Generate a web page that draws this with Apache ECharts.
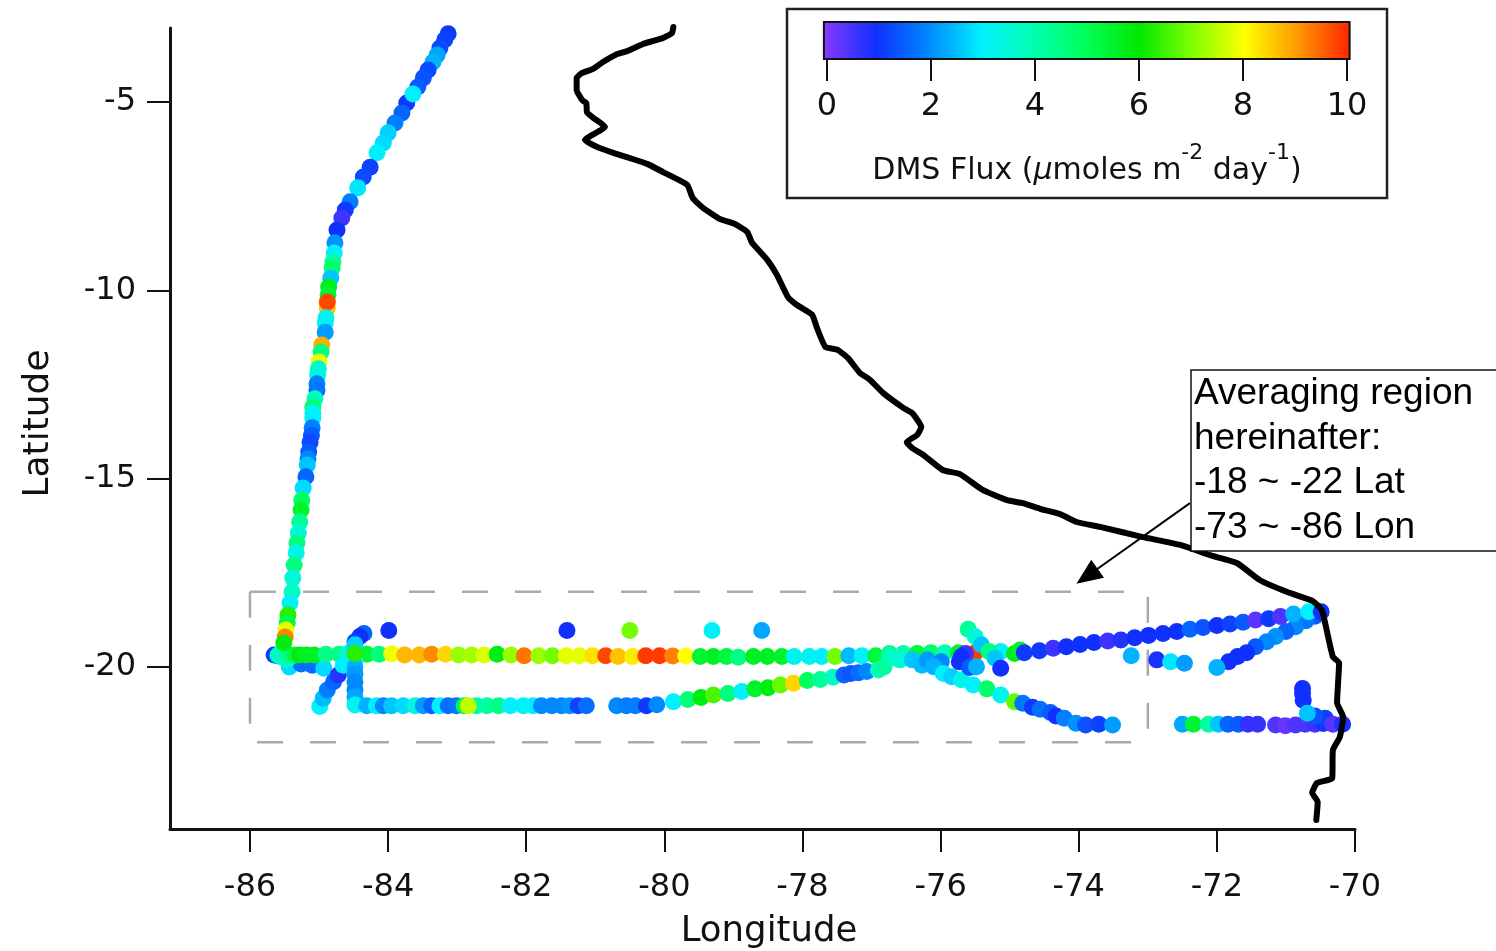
<!DOCTYPE html>
<html>
<head>
<meta charset="utf-8">
<style>
  html, body { margin: 0; padding: 0; background: #fff; }
  #chart { width: 1496px; height: 951px; }
</style>
<script src="https://cdn.jsdelivr.net/npm/echarts@6/dist/echarts.min.js"></script>
</head>
<body>
<div id="chart"></div>
<script>
// tick labels
const lonTicks = [-86, -84, -82, -80, -78, -76, -74, -72, -70];
const latTicks = [-5, -10, -15, -20];
const fluxTicks = [0, 2, 4, 6, 8, 10];

// flux colour scale, one colour per unit from 0 to 10
const fluxColors = ['#8a38ff', '#1030ff', '#0088ff', '#00f0ff', '#00ffb0', '#00ff58',
  '#00e800', '#80ff00', '#ffff00', '#ff9800', '#ff2400'];
const colorbarRange = [-0.06, 10.05];

// ship track, each point is [lon, lat, flux]
const northLeg = [
  [-83.13, -3.19, 1.1], [-83.18, -3.35, 1.2], [-83.25, -3.57, 1.3], [-83.29, -3.75, 2.3],
  [-83.35, -3.94, 2.4], [-83.42, -4.15, 1.3], [-83.49, -4.36, 1.4], [-83.57, -4.60, 1.5],
  [-83.73, -5.03, 1.1], [-83.64, -4.79, 3.0], [-83.80, -5.29, 1.6], [-83.90, -5.56, 1.9],
  [-84.00, -5.82, 2.7], [-84.07, -6.09, 2.8], [-84.16, -6.35, 3.0], [-84.26, -6.73, 1.2],
  [-84.36, -6.99, 1.3], [-84.44, -7.28, 2.9], [-84.55, -7.65, 1.9], [-84.62, -7.87, 1.1],
  [-84.67, -8.08, 0.6], [-84.74, -8.40, 1.0], [-84.77, -8.74, 2.1], [-84.78, -9.01, 3.0],
  [-84.80, -9.25, 4.2], [-84.81, -9.41, 4.8], [-84.83, -9.67, 2.6], [-84.86, -9.91, 5.7],
  [-84.87, -10.12, 5.4], [-84.88, -10.47, 8.6], [-84.88, -10.31, 9.7], [-84.90, -10.73, 3.3],
  [-84.91, -10.87, 3.1], [-84.91, -11.11, 2.2], [-84.96, -11.45, 8.8], [-84.97, -11.64, 4.5],
  [-85.00, -11.90, 7.8], [-85.01, -12.08, 3.6], [-85.02, -12.25, 3.4], [-85.03, -12.48, 1.9], [-85.03, -12.65, 1.8],
  [-85.06, -12.88, 3.8], [-85.09, -13.10, 4.8], [-85.09, -13.25, 3.2],
  [-85.09, -13.39, 3.0], [-85.10, -13.65, 1.9], [-85.11, -13.85, 1.5], [-85.13, -14.03, 1.3], [-85.15, -14.29, 1.5],
  [-85.16, -14.47, 2.0], [-85.17, -14.64, 2.6], [-85.19, -14.95, 1.6], [-85.23, -15.25, 2.8], [-85.25, -15.57, 4.9],
  [-85.26, -15.83, 5.5], [-85.28, -16.15, 4.3], [-85.30, -16.44, 3.5], [-85.32, -16.71, 4.6],
  [-85.33, -16.97, 3.3], [-85.36, -17.29, 4.6], [-85.38, -17.64, 3.5], [-85.39, -18.01, 3.8],
  [-85.42, -18.30, 3.2], [-85.45, -18.62, 6.3], [-85.46, -18.83, 5.2], [-85.48, -19.02, 7.8],
  [-85.49, -19.20, 9.2], [-85.51, -19.36, 5.8]
];
const turnCluster = [
  [-85.43, -20.00, 2.8], [-85.26, -19.92, 1.7], [-85.10, -19.95, 1.7], [-84.93, -20.03, 2.8],
  [-85.65, -19.68, 1.1], [-85.60, -19.70, 2.2], [-85.53, -19.74, 3.2], [-85.46, -19.80, 3.6]
];
const mainLine = [
  [-85.59, -19.68, 3.8], [-85.45, -19.68, 4.4], [-85.35, -19.68, 5.2], [-85.28, -19.68, 5.8],
  [-85.18, -19.68, 5.6], [-85.07, -19.68, 5.6], [-84.90, -19.66, 4.5], [-84.71, -19.66, 4.5],
  [-84.31, -19.66, 5.4], [-84.13, -19.66, 4.6], [-83.95, -19.65, 7.9], [-83.76, -19.68, 8.7],
  [-83.55, -19.68, 8.7], [-83.37, -19.66, 9.1], [-83.17, -19.66, 8.4], [-82.98, -19.68, 7.2],
  [-82.79, -19.68, 7.3], [-82.61, -19.68, 7.7], [-82.42, -19.66, 5.8], [-82.22, -19.68, 7.2],
  [-82.03, -19.70, 9.3], [-81.82, -19.70, 7.2], [-81.62, -19.70, 6.9], [-81.42, -19.70, 7.8],
  [-81.23, -19.70, 7.8], [-81.04, -19.70, 8.3], [-80.85, -19.70, 9.7], [-80.67, -19.72, 8.6],
  [-80.46, -19.72, 8.2], [-80.27, -19.70, 9.8], [-80.07, -19.70, 9.8], [-79.88, -19.71, 9.2],
  [-79.69, -19.71, 8.0], [-79.48, -19.72, 5.4], [-79.29, -19.72, 5.6], [-79.10, -19.72, 5.3],
  [-78.93, -19.74, 4.5], [-78.71, -19.72, 5.6], [-78.51, -19.72, 5.6], [-78.30, -19.72, 5.5],
  [-78.12, -19.72, 3.2], [-77.90, -19.72, 3.2], [-77.72, -19.72, 3.0], [-77.53, -19.72, 6.9],
  [-77.33, -19.70, 2.5], [-77.14, -19.70, 3.1], [-76.94, -19.70, 5.3], [-76.74, -19.64, 4.3],
  [-76.54, -19.64, 4.0], [-76.34, -19.64, 5.3], [-76.14, -19.62, 4.8], [-75.94, -19.62, 4.0],
  [-75.74, -19.62, 5.5], [-75.50, -19.62, 9.8], [-75.13, -19.59, 3.1], [-74.93, -19.64, 5.7],
  [-74.85, -19.55, 5.5]
];
const northEastLeg = [
  [-74.79, -19.62, 1.1], [-74.57, -19.57, 1.1], [-74.37, -19.50, 0.6], [-74.18, -19.46, 1.0],
  [-73.98, -19.40, 1.0], [-73.78, -19.35, 1.0], [-73.58, -19.31, 0.6], [-73.39, -19.28, 0.8],
  [-73.19, -19.22, 1.0], [-72.99, -19.16, 1.0], [-72.78, -19.11, 1.0], [-72.58, -19.06, 1.0],
  [-72.39, -19.00, 1.6], [-72.20, -18.95, 1.4], [-72.00, -18.90, 1.0], [-71.81, -18.86, 1.2],
  [-71.62, -18.81, 1.5], [-71.44, -18.75, 0.4], [-71.25, -18.72, 1.1], [-71.08, -18.66, 0.5],
  [-70.89, -18.59, 2.4], [-70.67, -18.53, 3.0], [-70.49, -18.53, 1.0]
];
const returnLeg = [
  [-70.58, -18.65, 1.5], [-70.71, -18.77, 1.8], [-70.86, -18.93, 2.0], [-71.00, -19.06, 1.6],
  [-71.15, -19.19, 2.1], [-71.28, -19.33, 2.0], [-71.44, -19.46, 1.5], [-71.57, -19.62, 1.0],
  [-71.70, -19.72, 1.0], [-71.83, -19.86, 1.0], [-72.00, -20.01, 2.4]
];
const isolatedPoints = [
  [-83.99, -19.03, 1.0], [-81.41, -19.03, 1.0], [-80.50, -19.03, 6.9], [-79.31, -19.03, 3.1],
  [-78.59, -19.03, 2.3], [-73.24, -19.70, 2.4], [-72.87, -19.81, 0.9], [-72.67, -19.86, 2.9],
  [-72.47, -19.90, 2.2]
];
const diagonalLeg = [
  [-84.99, -21.05, 3.0], [-84.94, -20.83, 2.5], [-84.88, -20.61, 1.9], [-84.79, -20.39, 1.6],
  [-84.72, -20.21, 0.8], [-84.65, -19.95, 3.0], [-84.58, -19.64, 3.5], [-84.35, -19.11, 1.6],
  [-84.41, -19.19, 1.0], [-84.48, -19.33, 1.2]
];
const verticalLeg = [
  [-84.48, -19.41, 2.7], [-84.48, -19.81, 3.0], [-84.48, -19.99, 2.4], [-84.48, -20.17, 2.2],
  [-84.48, -20.39, 2.0], [-84.48, -20.61, 2.0], [-84.48, -20.79, 2.3], [-84.48, -21.01, 3.2],
  [-84.48, -19.64, 6.3]
];
const southLine = [
  [-84.31, -21.03, 2.4], [-84.17, -21.03, 3.0], [-84.07, -21.03, 2.0], [-83.95, -21.03, 2.6],
  [-83.78, -21.03, 2.8], [-83.61, -21.03, 3.4], [-83.49, -21.03, 2.2], [-83.37, -21.03, 1.6],
  [-83.25, -21.03, 3.0], [-83.13, -21.03, 1.7], [-83.01, -21.03, 1.8], [-82.90, -21.03, 5.2],
  [-82.72, -21.03, 4.2], [-82.57, -21.03, 4.2], [-82.40, -21.03, 4.5], [-82.84, -21.03, 7.5],
  [-82.23, -21.03, 3.0], [-82.04, -21.03, 3.1], [-81.90, -21.03, 3.0], [-81.78, -21.03, 2.0],
  [-81.63, -21.03, 2.0], [-81.49, -21.03, 2.0], [-81.37, -21.03, 2.1], [-81.25, -21.03, 1.2],
  [-81.13, -21.03, 1.7], [-80.69, -21.03, 2.0], [-80.55, -21.03, 1.9], [-80.42, -21.03, 1.9],
  [-80.26, -21.03, 1.1], [-80.11, -21.00, 2.0]
];
const risingLeg = [
  [-79.87, -20.92, 3.0], [-79.66, -20.86, 4.6], [-79.47, -20.81, 5.8], [-79.29, -20.74, 6.6],
  [-79.08, -20.70, 4.6], [-78.88, -20.65, 3.0], [-78.69, -20.58, 5.5], [-78.50, -20.55, 5.8],
  [-78.32, -20.48, 6.8], [-78.13, -20.43, 8.4], [-77.93, -20.36, 4.9], [-77.74, -20.33, 4.3],
  [-77.56, -20.27, 3.8], [-77.40, -20.21, 1.6], [-77.30, -20.17, 1.4], [-77.19, -20.15, 1.7],
  [-77.07, -20.12, 2.0], [-76.90, -20.08, 4.0], [-76.82, -20.00, 4.2]
];
const southEastLeg = [
  [-76.73, -19.77, 3.8], [-76.59, -19.81, 3.6], [-76.41, -19.81, 2.6], [-76.27, -19.95, 2.5],
  [-76.19, -19.81, 2.2], [-75.99, -19.86, 2.0], [-76.10, -19.99, 2.4], [-75.96, -20.17, 3.0],
  [-75.84, -20.26, 2.7], [-75.70, -20.34, 3.3], [-75.53, -20.48, 3.0], [-75.33, -20.58, 4.8],
  [-75.13, -20.74, 3.2], [-74.93, -20.92, 6.8], [-74.81, -20.96, 1.8], [-74.67, -21.07, 1.1],
  [-74.56, -21.12, 1.7], [-74.41, -21.21, 1.5], [-74.33, -21.30, 1.0], [-74.21, -21.36, 1.9],
  [-74.04, -21.49, 2.1], [-73.90, -21.54, 1.4], [-73.71, -21.52, 1.2], [-73.51, -21.54, 2.2]
];
const crossingLeg = [
  [-75.64, -19.64, 0.6], [-75.70, -19.72, 1.0], [-75.73, -19.86, 1.0], [-75.58, -20.01, 1.5],
  [-75.48, -19.99, 2.4], [-75.60, -19.00, 4.3], [-75.50, -19.19, 3.5], [-75.41, -19.41, 2.6],
  [-75.30, -19.59, 4.5], [-75.21, -19.77, 2.6], [-75.13, -20.03, 1.0]
];
const coastalLine = [
  [-72.50, -21.52, 2.3], [-72.34, -21.52, 5.4], [-72.12, -21.52, 4.2], [-71.98, -21.52, 2.6],
  [-71.84, -21.52, 1.6], [-71.69, -21.52, 1.5], [-71.55, -21.52, 0.7], [-71.41, -21.52, 0.7],
  [-71.15, -21.54, 0.5], [-71.01, -21.56, 0.3], [-70.86, -21.54, 0.5], [-70.72, -21.52, 0.5],
  [-70.58, -21.52, 0.6], [-70.46, -21.50, 0.9], [-70.43, -21.36, 1.2], [-70.58, -21.30, 1.4],
  [-70.76, -20.57, 1.0], [-70.76, -20.70, 1.0], [-70.75, -20.88, 1.0], [-70.69, -21.23, 2.6],
  [-70.32, -21.52, 0.4], [-70.18, -21.52, 0.9]
];

// coastline, [lon, lat]
const coastline = [
  [-79.87, -3.01], [-79.89, -3.17], [-80.02, -3.30], [-80.16, -3.38], [-80.31, -3.46], [-80.54, -3.65],
  [-80.71, -3.75], [-80.89, -3.94], [-81.03, -4.12], [-81.19, -4.23], [-81.27, -4.36], [-81.27, -4.68],
  [-81.19, -4.95], [-81.13, -5.03], [-81.12, -5.27], [-81.03, -5.42], [-80.86, -5.66], [-81.15, -6.01],
  [-80.98, -6.19], [-80.74, -6.35], [-80.50, -6.49], [-80.24, -6.65], [-80.02, -6.86], [-79.67, -7.20],
  [-79.59, -7.55], [-79.44, -7.81], [-79.19, -8.11], [-78.98, -8.24], [-78.80, -8.45], [-78.73, -8.74],
  [-78.51, -9.19], [-78.37, -9.59], [-78.21, -10.18], [-78.08, -10.39], [-77.86, -10.65], [-77.79, -11.00],
  [-77.67, -11.50], [-77.49, -11.58], [-77.34, -11.80], [-77.17, -12.19], [-77.02, -12.38], [-76.83, -12.73],
  [-76.54, -13.12], [-76.41, -13.26], [-76.28, -13.63], [-76.34, -13.84], [-76.49, -14.03], [-76.41, -14.19],
  [-76.25, -14.37], [-75.97, -14.77], [-75.72, -14.88], [-75.39, -15.30], [-75.04, -15.57], [-74.81, -15.65],
  [-74.56, -15.80], [-74.27, -15.94], [-74.03, -16.15], [-73.69, -16.28], [-73.07, -16.55], [-72.53, -16.76],
  [-72.10, -17.03], [-71.71, -17.24], [-71.38, -17.69], [-70.98, -18.01], [-70.61, -18.25], [-70.48, -18.49],
  [-70.41, -19.02], [-70.32, -19.73], [-70.23, -19.89], [-70.26, -20.95], [-70.17, -21.33], [-70.22, -21.86],
  [-70.32, -22.20], [-70.33, -22.95], [-70.55, -23.08], [-70.62, -23.34], [-70.54, -23.58], [-70.56, -24.06]
];

// averaging region edges and the arrow pointing at it
const regionEdges = [
  [[-86, -18], [-73, -18]],
  [[-86, -18], [-86, -22]],
  [[-73, -18], [-73, -22]],
  [[-86, -22], [-73, -22]]
];
const regionDashOffsets = [0, 0, 48, 46];
const arrowFrom = [-72.39, -15.65];
const arrowTo = [-73.88, -17.59];

const trackPoints = [].concat(turnCluster, mainLine, northLeg, southEastLeg, crossingLeg, returnLeg,
  northEastLeg, diagonalLeg, verticalLeg, southLine, risingLeg, isolatedPoints, coastalLine);

const axisColor = '#111';
const labelFont = '"DejaVu Sans"';

const chart = echarts.init(document.getElementById('chart'));
chart.setOption({
  animation: false,
  backgroundColor: '#fff',
  grid: [
    { left: 170, top: 28, width: 1185, height: 801, outerBoundsMode: 'none' },
    { left: 827, top: 22, width: 520, height: 37, outerBoundsMode: 'none' }
  ],
  xAxis: [
    {
      type: 'value', gridIndex: 0, min: -87.158, max: -70,
      name: 'Longitude', nameLocation: 'middle', nameGap: 85,
      nameTextStyle: { fontFamily: labelFont, fontSize: 35.5, color: axisColor, padding: [0, 0, 0, 13] },
      splitLine: { show: false },
      axisLine: { onZero: false, lineStyle: { color: axisColor, width: 3 } },
      axisTick: { show: true, customValues: lonTicks, length: 23, lineStyle: { color: axisColor, width: 2 } },
      axisLabel: { customValues: lonTicks, margin: 43, fontFamily: labelFont, fontSize: 32, color: axisColor }
    },
    {
      type: 'value', gridIndex: 1, min: 0, max: 10,
      name: '{n|DMS Flux (}{i|\u03bc}{n|moles m}{s|-2}{n| day}{s|-1}{n|)}',
      nameLocation: 'middle', nameGap: 83,
      nameTextStyle: {
        rich: {
          n: { fontFamily: labelFont, fontSize: 30, lineHeight: 44, color: axisColor, verticalAlign: 'bottom' },
          i: { fontFamily: labelFont, fontSize: 30, lineHeight: 44, fontStyle: 'italic', color: axisColor, verticalAlign: 'bottom' },
          s: { fontFamily: labelFont, fontSize: 22, lineHeight: 44, color: axisColor, verticalAlign: 'top' }
        }
      },
      splitLine: { show: false },
      axisLine: { show: false },
      axisTick: { show: true, customValues: fluxTicks, length: 22, lineStyle: { color: axisColor, width: 2 } },
      axisLabel: { customValues: fluxTicks, margin: 32, fontFamily: labelFont, fontSize: 32, color: axisColor }
    }
  ],
  yAxis: [
    {
      type: 'value', gridIndex: 0, min: -24.3, max: -3.036,
      name: 'Latitude', nameLocation: 'middle', nameGap: 113,
      nameTextStyle: { fontFamily: labelFont, fontSize: 36, color: axisColor, padding: [0, 0, 0, 10] },
      splitLine: { show: false },
      axisLine: { onZero: false, lineStyle: { color: axisColor, width: 3 } },
      axisTick: { show: true, customValues: latTicks, length: 23, lineStyle: { color: axisColor, width: 2 } },
      axisLabel: { customValues: latTicks, margin: 34, fontFamily: labelFont, fontSize: 32, color: axisColor }
    },
    { type: 'value', gridIndex: 1, min: 0, max: 1, show: false, splitLine: { show: false } }
  ],
  visualMap: {
    show: false, type: 'continuous', seriesIndex: 0, dimension: 2,
    min: 0, max: 10, inRange: { color: fluxColors }
  },
  series: [
    {
      type: 'scatter', xAxisIndex: 0, yAxisIndex: 0, z: 3,
      symbolSize: 17, data: trackPoints, clip: false,
      itemStyle: { opacity: 1 }
    },
    {
      type: 'line', xAxisIndex: 0, yAxisIndex: 0, z: 4, data: coastline, clip: false, smooth: 0.15,
      showSymbol: false, lineStyle: { color: '#000', width: 6, join: 'round', cap: 'round' }
    },
    ...regionEdges.map((edge, i) => ({
      type: 'line', xAxisIndex: 0, yAxisIndex: 0, z: 2, data: edge, showSymbol: false,
      lineStyle: { color: '#aaa', width: 2.5, type: [26, 27], dashOffset: regionDashOffsets[i] }
    })),
    {
      type: 'line', xAxisIndex: 0, yAxisIndex: 0, z: 5, data: [],
      markLine: {
        silent: true, symbol: ['none', 'triangle'], symbolSize: [22, 26],
        label: { show: false },
        lineStyle: { color: '#000', width: 2, type: 'solid' },
        data: [[{ coord: arrowFrom }, { coord: arrowTo }]]
      }
    },
    {
      // colour bar, a gradient box on the flux axis
      type: 'custom', xAxisIndex: 1, yAxisIndex: 1, z: 6, clip: false,
      data: [colorbarRange],
      renderItem: (params, api) => {
        const a = api.coord([api.value(0), 0]);
        const b = api.coord([api.value(1), 1]);
        return {
          type: 'rect',
          shape: { x: a[0], y: b[1], width: b[0] - a[0], height: a[1] - b[1] },
          style: {
            fill: new echarts.graphic.LinearGradient(0, 0, 1, 0,
              fluxColors.map((color, i) => ({ offset: i / (fluxColors.length - 1), color }))),
            stroke: '#111', lineWidth: 2
          }
        };
      }
    }
  ],
  graphic: [
    {
      type: 'rect', z: 1, silent: true,
      shape: { x: 787, y: 9, width: 600, height: 189 },
      style: { fill: 'transparent', stroke: '#222', lineWidth: 2.5 }
    },
    {
      type: 'rect', z: 20, silent: true,
      shape: { x: 1191, y: 370, width: 310, height: 181 },
      style: { fill: '#fff', stroke: '#111', lineWidth: 1.5 }
    },
    {
      type: 'text', z: 21, silent: true, x: 1194, y: 372,
      style: {
        text: 'Averaging region\nhereinafter:\n-18 ~ -22 Lat\n-73 ~ -86 Lon',
        font: '37px "Liberation Sans"', lineHeight: 44.5, fill: '#000'
      }
    }
  ]
});
</script>
</body>
</html>
